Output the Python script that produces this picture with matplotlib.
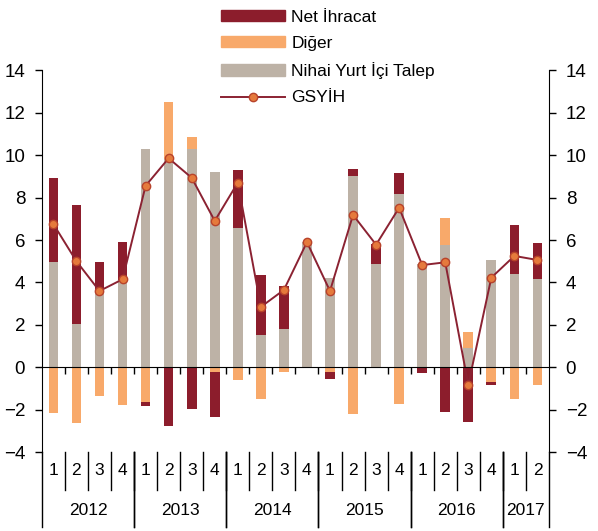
import numpy as np
import matplotlib
matplotlib.use('Agg')
import matplotlib.pyplot as plt
from matplotlib.lines import Line2D
from matplotlib.patches import Patch

plt.rcParams['font.family'] = ['Liberation Sans', 'DejaVu Sans']

## Quarters 2012Q1 .. 2017Q2
quarters = ['1', '2', '3', '4'] * 5 + ['1', '2']
years = ['2012', '2013', '2014', '2015', '2016', '2017']
year_len = [4, 4, 4, 4, 4, 2]

## Contributions (percentage points)
nihai = [4.95, 2.05, 3.6, 4.1, 10.3, 9.8, 10.3, 9.2, 6.55, 1.55, 1.8,
         5.9, 4.2, 9.0, 4.85, 8.15, 4.85, 5.75, 0.9, 5.05, 4.4, 4.15]
diger = [-2.15, -2.6, -1.35, -1.75, -1.65, 2.7, 0.55, -0.2, -0.6, -1.5, -0.2,
         0.0, -0.2, -2.2, 0.0, -1.7, 0.0, 1.3, 0.75, -0.67, -1.5, -0.82]
net = [3.95, 5.6, 1.35, 1.8, -0.15, -2.75, -1.95, -2.15, 2.75, 2.8, 2.05,
       0.0, -0.35, 0.35, 0.95, 1.0, -0.25, -2.12, -2.55, -0.15, 2.3, 1.7]
gsyih = [6.75, 5.0, 3.6, 4.15, 8.55, 9.85, 8.93, 6.9, 8.7, 2.85, 3.65,
         5.9, 3.6, 7.18, 5.78, 7.52, 4.82, 4.95, -0.82, 4.23, 5.25, 5.06]

c_net = '#8C1D2C'
c_diger = '#F8A96A'
c_nihai = '#BDB2A6'
c_line = '#8B2232'

fig = plt.figure(figsize=(5.98, 5.31), dpi=100)
ax = fig.add_axes([0.070, 0.148, 0.848, 0.720])

x = np.arange(len(nihai))
w = 0.42

## Diverging stack: positives go up, negatives go down
pos = np.zeros(len(x))
neg = np.zeros(len(x))
for vals, col in [(nihai, c_nihai), (diger, c_diger), (net, c_net)]:
    v = np.array(vals)
    bottom = np.where(v >= 0, pos, neg)
    ax.bar(x, v, w, bottom=bottom, color=col, zorder=2)
    pos = pos + np.clip(v, 0, None)
    neg = neg + np.clip(v, None, 0)

ax.plot(x, gsyih, color=c_line, lw=1.4, marker='o', ms=6,
        mfc='#E57A3C', mec='#B8432B', mew=1.0, zorder=3)

## Axes tidy
ax.set_xlim(-0.5, len(x) - 0.5)
ax.set_ylim(-4, 14)
ax.set_yticks(np.arange(-4, 15, 2))
ax.spines['top'].set_visible(False)
ax.spines['right'].set_visible(False)
ax.spines['bottom'].set_position(('data', 0))
ax.spines['bottom'].set_zorder(4)
ax.set_xticks(np.arange(0.5, len(x) - 0.5, 1))
ax.tick_params(axis='x', direction='out', length=5, labelbottom=False, width=1)
ax.tick_params(axis='y', direction='out', length=5, labelsize=13.5, pad=7, width=1)

ax2 = ax.twinx()
ax2.set_ylim(-4, 14)
ax2.set_yticks(np.arange(-4, 15, 2))
for s in ['top', 'left', 'bottom']:
    ax2.spines[s].set_visible(False)
ax2.tick_params(axis='y', direction='out', length=5, labelsize=13.5, pad=7, width=1)

## Category labels below the plot
tr = ax.get_xaxis_transform()
for i, q in enumerate(quarters):
    ax.text(i, -0.048, q, transform=tr, ha='center', va='center', fontsize=12.5)
    if i > 0:
        ax.add_line(Line2D([i - 0.5, i - 0.5], [0, -0.098], transform=tr,
                           color='black', lw=1, clip_on=False))
start = 0
for yr, n in zip(years, year_len):
    ax.text(start + n / 2 - 0.5, -0.153, yr, transform=tr, ha='center', va='center', fontsize=12.5)
    for b in [start - 0.5, start + n - 0.5]:
        ax.add_line(Line2D([b, b], [0, -0.196], transform=tr,
                           color='black', lw=1, clip_on=False))
    start += n

## Legend
handles = [Patch(color=c_net), Patch(color=c_diger), Patch(color=c_nihai),
           Line2D([], [], color=c_line, lw=1.4, marker='o', ms=6,
                  mfc='#E57A3C', mec='#B8432B')]
labels = ['Net İhracat', 'Diğer', 'Nihai Yurt İçi Talep', 'GSYİH']
fig.legend(handles, labels, loc='upper left', bbox_to_anchor=(0.358, 0.995),
           frameon=False, fontsize=12.5, handlelength=3.7, handleheight=0.6,
           labelspacing=0.65, handletextpad=0.35, numpoints=1, borderaxespad=0)

fig.savefig('out.png', dpi=100)
